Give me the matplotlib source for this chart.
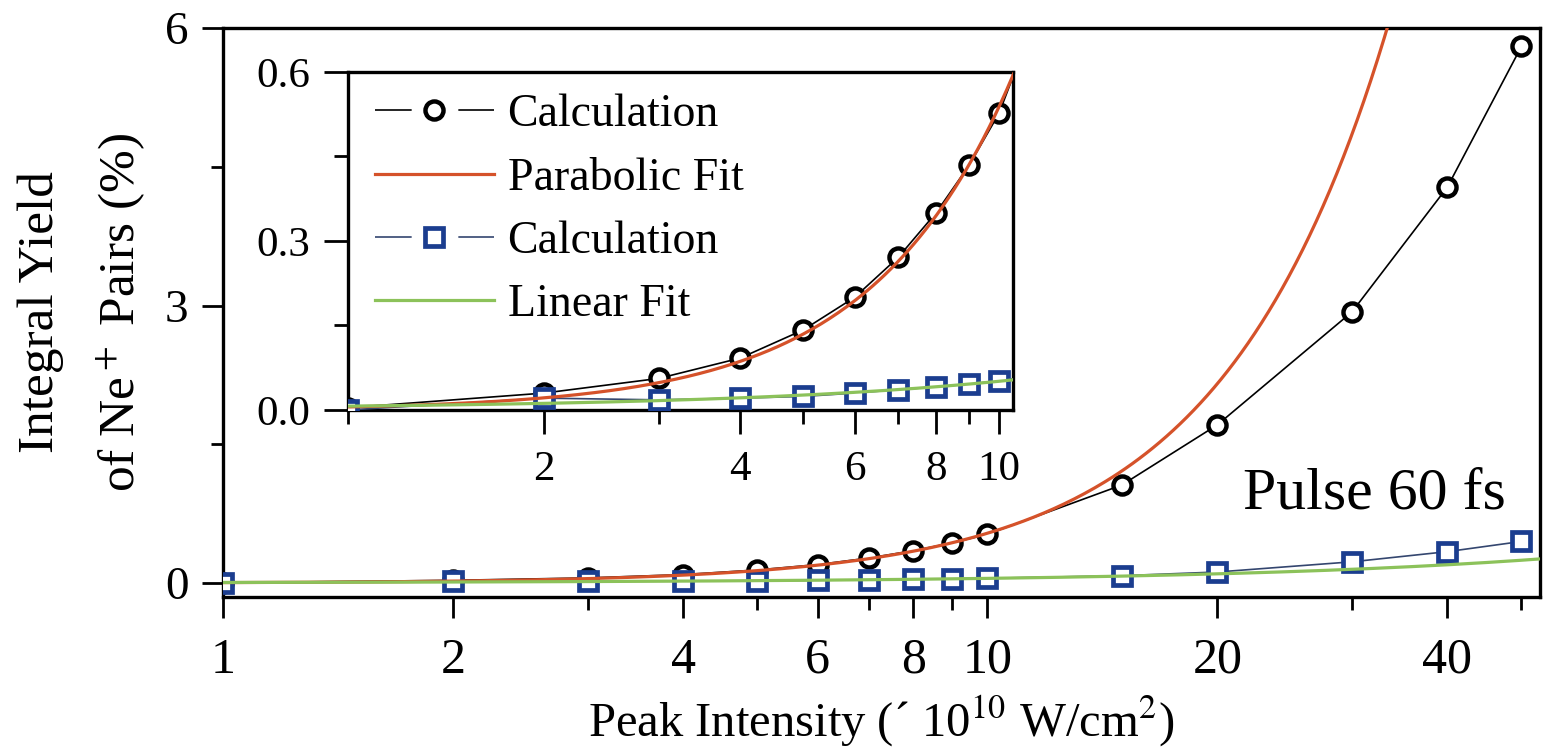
import numpy as np
import matplotlib
matplotlib.use("Agg")
import matplotlib.pyplot as plt
from matplotlib.lines import Line2D
from matplotlib.ticker import FixedLocator, FixedFormatter, NullFormatter

plt.rcParams['font.family'] = ['Liberation Serif', 'DejaVu Serif']
plt.rcParams['mathtext.fontset'] = 'stix'

# peak intensity (x 10^10 W/cm^2)
intensity = [1, 2, 3, 4, 5, 6, 7, 8, 9, 10, 15, 20, 30, 40, 50]
# integral yield (%) - two calculations
calc_circle = [0.004, 0.030, 0.056, 0.092, 0.142, 0.200, 0.271, 0.350, 0.435, 0.527,
               1.06, 1.71, 2.93, 4.28, 5.80]
calc_square = [0.0, 0.021, 0.018, 0.021, 0.024, 0.030, 0.036, 0.041, 0.046, 0.052,
               0.08, 0.12, 0.23, 0.34, 0.45]

x = np.array(intensity, dtype=float)
yc = np.array(calc_circle)
ys = np.array(calc_square)

# fits done on the low-intensity part (I <= 10)
low = x <= 10
a_par = np.sum(x[low]**2 * yc[low]) / np.sum(x[low]**4)   # y = a*I^2
lin = np.polyfit(x[low], ys[low], 1)                       # y = k*I + b

xf = np.geomspace(1, 60, 400)
par_fit = a_par * xf**2
lin_fit = np.polyval(lin, xf)

black = 'black'
navy = '#1b3d8f'
navy_line = '#34466f'
orange = '#d5522a'
green = '#8cc25a'

MS = 13

fig = plt.figure(figsize=(15.46, 7.48), dpi=100)
ax = fig.add_axes([0.1443, 0.2019, 0.8519, 0.7607])
ins = fig.add_axes([0.2251, 0.4519, 0.4301, 0.4519])


def draw(a):
    a.plot(x, yc, '-', color=black, lw=1.2, marker='o', ms=MS, mew=3.2,
           mfc='white', mec=black, zorder=3)
    a.plot(xf, par_fit, '-', color=orange, lw=2.3, zorder=4)
    a.plot(x, ys, '-', color=navy_line, lw=1.2, marker='s', ms=MS, mew=3.4,
           mfc='white', mec=navy, zorder=3)
    a.plot(xf, lin_fit, '-', color=green, lw=2.3, zorder=4)
    a.set_xscale('log')
    for s in a.spines.values():
        s.set_linewidth(2.4)
    a.tick_params(which='both', direction='out', width=2.0, top=False, right=False)


draw(ax)
draw(ins)

# main axes
ax.set_xlim(1, 52.9)
ax.set_ylim(-0.15, 6)
ax.xaxis.set_major_locator(FixedLocator([1, 2, 4, 6, 8, 10, 20, 40]))
ax.xaxis.set_major_formatter(FixedFormatter(['1', '2', '4', '6', '8', '10', '20', '40']))
ax.xaxis.set_minor_locator(FixedLocator([3, 5, 7, 9, 30, 50]))
ax.xaxis.set_minor_formatter(NullFormatter())
ax.yaxis.set_major_locator(FixedLocator([0, 3, 6]))
ax.yaxis.set_major_formatter(FixedFormatter(['0', '3', '6']))
ax.yaxis.set_minor_locator(FixedLocator([1.5, 4.5]))
ax.tick_params(which='major', length=15)
ax.tick_params(which='minor', length=9)
ax.tick_params(axis='x', which='major', pad=14, labelsize=36)
ax.tick_params(axis='y', which='major', pad=10, labelsize=34)

ax.set_xlabel('Peak Intensity (\u00b4 10$^{10}$ W/cm$^2$)', fontsize=35, labelpad=7)
ax.set_ylabel('Integral Yield\nof Ne$^+$ Pairs (%)', fontsize=37, labelpad=12,
              linespacing=1.75)
ax.text(0.874, 0.156, 'Pulse 60 fs', transform=ax.transAxes, fontsize=43, ha='center')

# inset
ins.set_facecolor('white')
ins.set_zorder(5)
ins.set_xlim(1, 10.5)
ins.set_ylim(0, 0.6)
ins.xaxis.set_major_locator(FixedLocator([2, 4, 6, 8, 10]))
ins.xaxis.set_major_formatter(FixedFormatter(['2', '4', '6', '8', '10']))
ins.xaxis.set_minor_locator(FixedLocator([1, 3, 5, 7, 9]))
ins.xaxis.set_minor_formatter(NullFormatter())
ins.yaxis.set_major_locator(FixedLocator([0.0, 0.3, 0.6]))
ins.yaxis.set_major_formatter(FixedFormatter(['0.0', '0.3', '0.6']))
ins.yaxis.set_minor_locator(FixedLocator([0.15, 0.45]))
ins.tick_params(which='major', length=17, labelsize=31)
ins.tick_params(which='minor', length=10)
ins.tick_params(axis='x', which='major', pad=12)
ins.tick_params(axis='y', which='major', pad=10)

# legend handles: line with a gap around the marker
gap = dict(lw=1.2, dashes=(22, 28))
h_circ = (Line2D([], [], color=black, **gap),
          Line2D([], [], ls='none', marker='o', ms=MS, mew=3.2, mfc='white', mec=black))
h_par = Line2D([], [], color=orange, lw=2.3)
h_sq = (Line2D([], [], color=navy_line, **gap),
        Line2D([], [], ls='none', marker='s', ms=MS, mew=3.4, mfc='white', mec=navy))
h_lin = Line2D([], [], color=green, lw=2.3)
ins.legend([h_circ, h_par, h_sq, h_lin],
           ['Calculation', 'Parabolic Fit', 'Calculation', 'Linear Fit'],
           loc='upper left', bbox_to_anchor=(0.04, 0.935), frameon=False,
           fontsize=33, handlelength=2.6, handletextpad=0.3, labelspacing=0.45,
           borderpad=0, borderaxespad=0)

fig.savefig('out.png', dpi=100)
